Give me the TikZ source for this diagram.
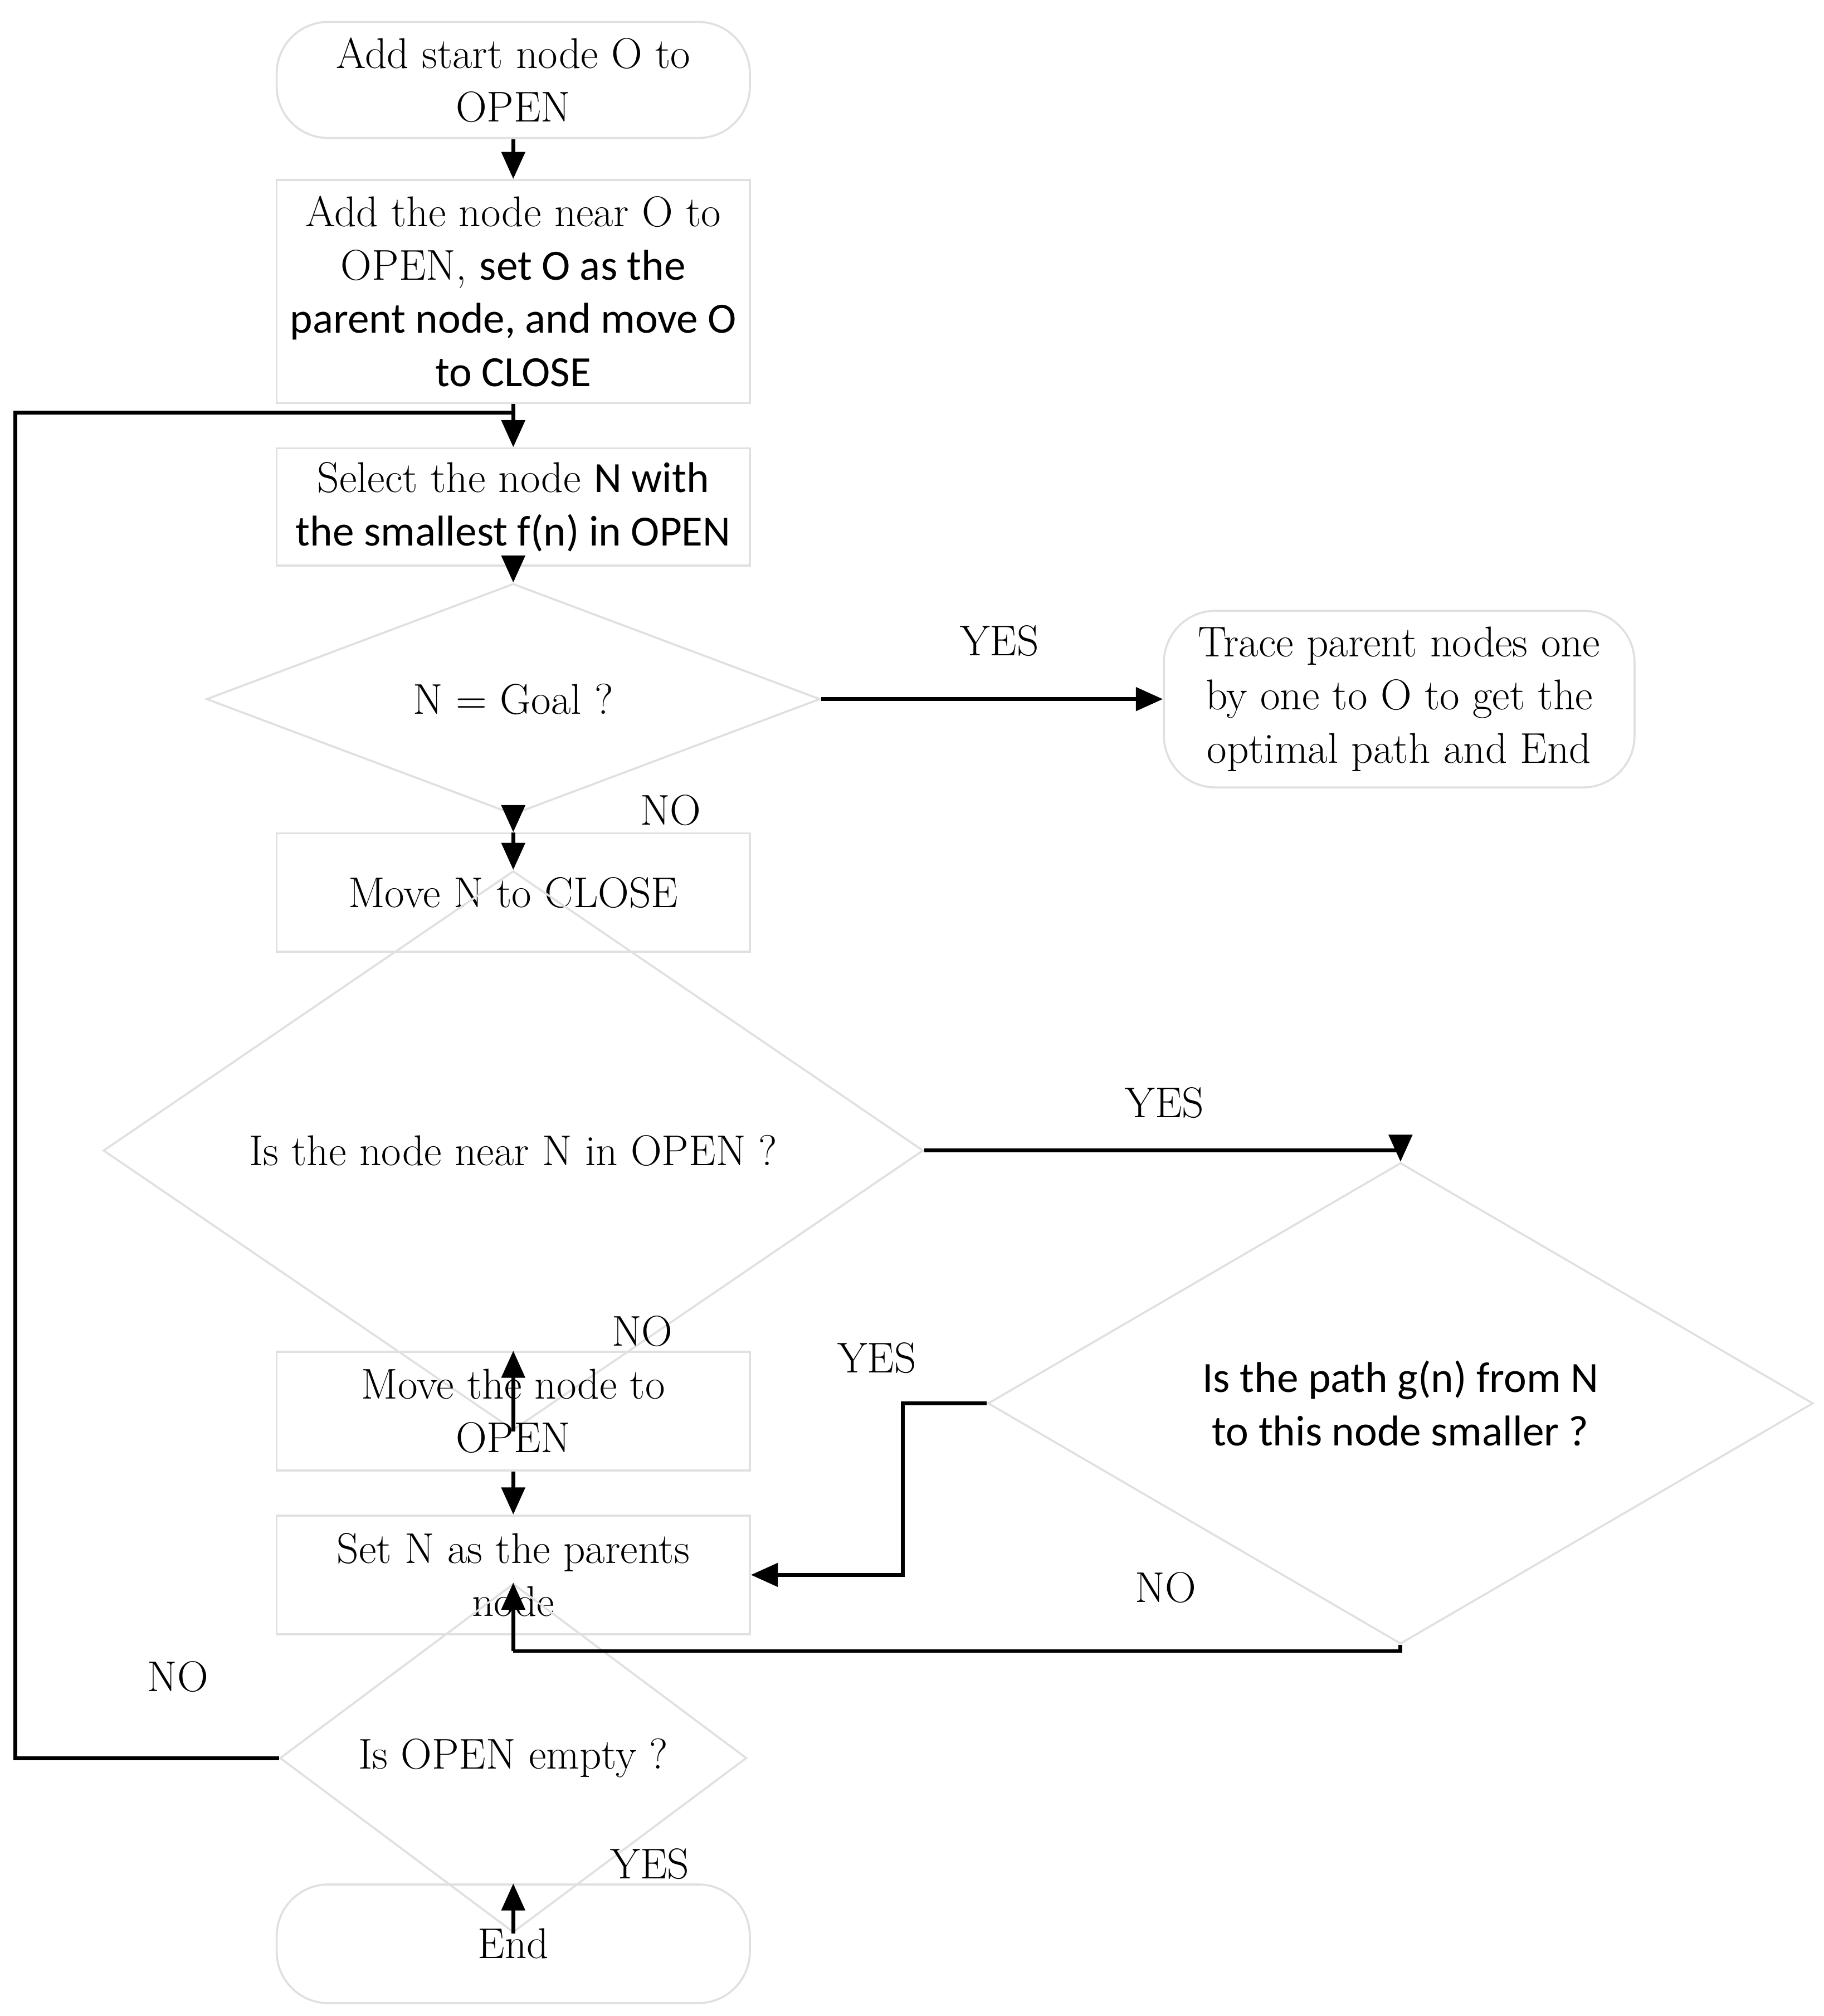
\documentclass[tikz,border=0pt]{standalone}
\usepackage{fontspec}
\newfontfamily\calfnt{Carlito}
\usetikzlibrary{shapes.geometric,arrows.meta}
\begin{document}
\begin{tikzpicture}[x=0.02cm,y=-0.02cm,
 box/.style={draw=black!12,line width=0.9pt,minimum width=7.34cm,align=center,font=\fontsize{19}{23.5}\selectfont,inner sep=0pt},
 rbox/.style={box,rounded corners=0.8cm},
 dia/.style={draw=black!12,line width=0.9pt,diamond,align=center,font=\fontsize{19}{23.5}\selectfont,inner sep=0pt},
 lab/.style={font=\fontsize{19}{23}\selectfont},
 ln/.style={line width=1.7pt},
 ar/.style={ln,-{Triangle[length=0.42cm,width=0.36cm]}}]
\useasboundingbox (0,0) rectangle (1414,1563);
\node[rbox,minimum height=1.8cm] (s) at (398,62) {Add start node O to\\OPEN};
\node[box,minimum height=3.46cm] (b2) at (398,226) {Add the node near O to\\OPEN, {\calfnt set O as the}\\{\calfnt parent node, and move O}\\{\calfnt to CLOSE}};
\node[box,minimum height=1.82cm] (b3) at (398,393) {Select the node {\calfnt N with}\\{\calfnt the smallest f(n) in OPEN}};
\node[dia,minimum width=9.52cm,minimum height=2.7cm] (d1) at (398,542) {N = Goal ?};
\node[rbox,minimum width=7.3cm,minimum height=2.74cm] (t) at (1085,542) {Trace parent nodes one\\by one to O to get the\\optimal path and End};
\node[box,minimum height=1.84cm] (b4) at (398,692) {Move N to CLOSE};
\node[dia,minimum width=12.72cm,minimum height=4.78cm] (d2) at (398,892) {Is the node near N in OPEN ?};
\node[dia,minimum width=12.8cm,minimum height=4.8cm] (d3) at (1086,1088) {{\calfnt Is the path g(n) from N}\\{\calfnt to this node smaller ?}};
\node[box,minimum height=1.84cm] (b5) at (398,1094) {Move the node to\\OPEN};
\node[box,minimum height=1.84cm] (b6) at (398,1221) {Set N as the parents\\node};
\node[dia,minimum width=7.24cm,minimum height=2.46cm] (d4) at (398,1363) {Is OPEN empty ?};
\node[rbox,minimum height=1.84cm] (e) at (398,1507) {End};
\coordinate (j1) at (398,320);
\coordinate (j2) at (398,1280);
\draw[ar] (s) -- (b2);
\draw[ar] (j1) -- (b3);
\draw[ln] (b2.south) -- (j1);
\draw[ar] (b3) -- (d1);
\draw[ar] (d1) -- (b4);
\draw[ar] (d1.east) -- (t.west);
\draw[ar] (b4) -- (d2);
\draw[ar] (d2.east) -| (d3.north);
\draw[ar] (d2) -- (b5);
\draw[ar] (b5) -- (b6);
\draw[ar] (d3.west) -- (700,1088) |- (b6.east);
\draw[ln] (d3.south) |- (j2);
\draw[ln] (b6.south) -- (j2);
\draw[ar] (j2) -- (d4.north);
\draw[ln] (d4.west) -- (12,1363) |- (j1);
\draw[ar] (d4) -- (e);
\node[lab] at (775,497) {YES};
\node[lab] at (520,628) {NO};
\node[lab] at (903,855) {YES};
\node[lab] at (498,1032) {NO};
\node[lab] at (680,1053) {YES};
\node[lab] at (904,1231) {NO};
\node[lab] at (138,1300) {NO};
\node[lab] at (504,1445) {YES};
\end{tikzpicture}
\end{document}
